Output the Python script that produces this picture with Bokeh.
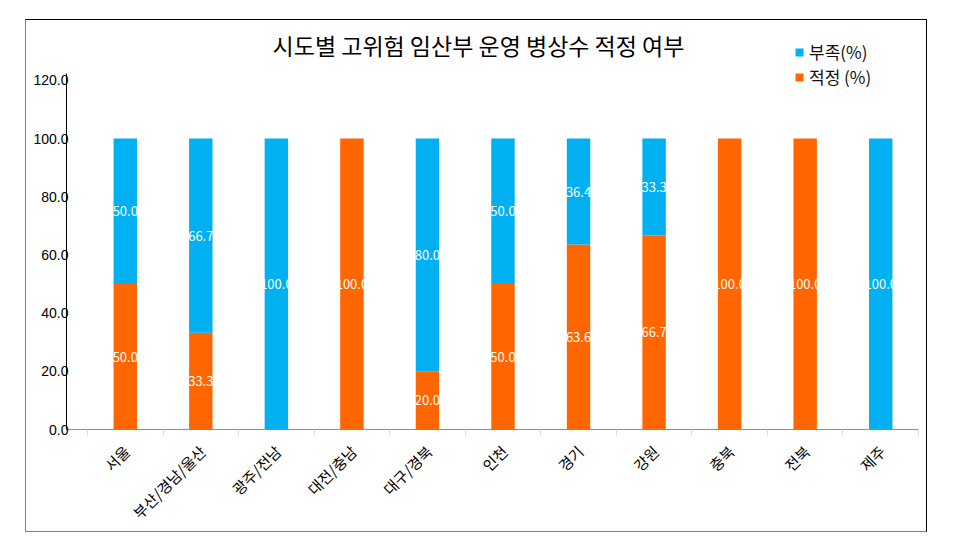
import numpy as np
from bokeh.plotting import figure
from bokeh.models import (ColumnDataSource, Range1d, FixedTicker, Legend, LegendItem,
                          LabelSet, Label)
from bokeh.embed import file_html
from bokeh.resources import INLINE
from bokeh.core.properties import value

# ---- data ----
regions = ["서울", "부산/경남/울산", "광주/전남", "대전/충남", "대구/경북", "인천",
           "경기", "강원", "충북", "전북", "제주"]
shortage = [50.0, 66.7, 100.0, 0.0, 80.0, 50.0, 36.4, 33.3, 0.0, 0.0, 100.0]   # 부족(%)
adequate = [50.0, 33.3, 0.0, 100.0, 20.0, 50.0, 63.6, 66.7, 100.0, 100.0, 0.0]  # 적정 (%)
y_ticks = [0, 20, 40, 60, 80, 100, 120]
y_tick_labels = ["0.0", "20.0", "40.0", "60.0", "80.0", "100.0", "120.0"]
title_text = "시도별 고위험 임산부 운영 병상수 적정 여부"
series_names = ["부족(%)", "적정 (%)"]

BLUE = "#00B0F0"
ORANGE = "#FF6600"
KFONT = "Noto Sans CJK KR"

x = np.arange(len(regions))
adq = np.array(adequate)
sho = np.array(shortage)

src = ColumnDataSource(dict(x=x, adq=adq, top=adq + sho))

Y_AXIS_TOP = 122.4
p = figure(width=902, height=513, output_backend="svg", toolbar_location=None,
           x_range=Range1d(-0.778, len(regions) - 0.5), y_range=Range1d(0, 137.5),
           min_border_left=40, min_border_right=10, min_border_top=9, min_border_bottom=104)
p.margin = (19, 0, 0, 25)
p.styles = {"border-top": "1px solid #000000", "border-right": "1px solid #000000",
            "border-bottom": "1px solid #808080", "border-left": "1px solid #808080",
            "box-sizing": "border-box"}
p.outline_line_color = None
p.xgrid.visible = False
p.ygrid.visible = False

r_adq = p.vbar(x="x", bottom=0, top="adq", width=0.31, source=src,
               fill_color=ORANGE, line_color=None)
r_sho = p.vbar(x="x", bottom="adq", top="top", width=0.31, source=src,
               fill_color=BLUE, line_color=None)

# value labels (segment centres)
lx, ly, lt = [], [], []
for i in range(len(regions)):
    if adequate[i] > 0:
        lx.append(i); ly.append(adequate[i] / 2); lt.append(f"{adequate[i]:.1f}")
    if shortage[i] > 0:
        lx.append(i); ly.append(adequate[i] + shortage[i] / 2); lt.append(f"{shortage[i]:.1f}")
lsrc = ColumnDataSource(dict(x=lx, y=ly, t=lt))
p.add_layout(LabelSet(x="x", y="y", text="t", source=lsrc, text_color="white",
                      text_font=value(KFONT), text_font_size="13px",
                      text_align="center", text_baseline="middle"))

# title (drawn inside the frame area, screen units relative to frame)
p.add_layout(Label(x=412, y=385, x_units="screen", y_units="screen", text=title_text,
                   text_font=KFONT, text_font_size="23px", text_color="#000000",
                   text_align="center", text_baseline="middle"))

# y axis
ya = p.yaxis[0]
ya.ticker = FixedTicker(ticks=y_ticks)
ya.bounds = (0, Y_AXIS_TOP)
ya.major_label_overrides = {t: l for t, l in zip(y_ticks, y_tick_labels)}
ya.major_tick_out = 0
ya.major_tick_in = 0
ya.minor_tick_out = 0
ya.minor_tick_in = 0
ya.major_label_standoff = -2
ya.major_label_text_font = "Liberation Sans"
ya.major_label_text_font_size = "14px"
ya.major_label_text_color = "#000000"
ya.axis_line_color = "#000000"

# x axis (labels anchored slightly right of bar centre, as in the source chart)
LABEL_SHIFT = 0.02
label_ticks = [float(i) + LABEL_SHIFT for i in x]
xa = p.xaxis[0]
xa.ticker = FixedTicker(ticks=label_ticks,
                        minor_ticks=[i - 0.5 for i in range(len(regions) + 1)])
xa.major_label_overrides = {t: r for t, r in zip(label_ticks, regions)}
xa.major_tick_out = 0
xa.major_tick_in = 0
xa.minor_tick_in = 0
xa.minor_tick_out = 6
xa.minor_tick_line_color = "#d9d9d9"
xa.axis_line_color = "#8c8c8c"
xa.major_label_orientation = np.pi / 4
xa.major_label_standoff = 13
xa.major_label_text_font = KFONT
xa.major_label_text_font_size = "15px"
xa.major_label_text_color = "#000000"

legend = Legend(items=[LegendItem(label=series_names[0], renderers=[r_sho]),
                       LegendItem(label=series_names[1], renderers=[r_adq])],
                location=(728, 340), orientation="vertical",
                glyph_width=10, glyph_height=10, label_height=20, label_standoff=5,
                spacing=-4, padding=0, margin=0,
                border_line_color=None, background_fill_alpha=0,
                label_text_font=KFONT, label_text_font_size="17px",
                label_text_color="#111111")
p.add_layout(legend)

open("out.html", "w").write(file_html(p, INLINE))
